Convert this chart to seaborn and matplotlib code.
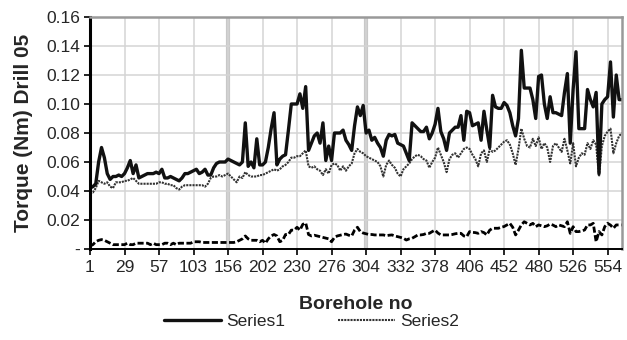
import numpy as np
import pandas as pd
import matplotlib
matplotlib.use("Agg")
import matplotlib.pyplot as plt
import seaborn as sns

# ---- data -------------------------------------------------------------
tick_labels = ['1', '29', '57', '103', '156', '202', '230', '276', '304',
               '332', '378', '406', '452', '480', '526', '554']
label_step = 12          # one axis label every 12 boreholes (categories)
section_labels = ['156', '304']

series1 = [
    0.042, 0.043, 0.045, 0.060, 0.070, 0.063, 0.052, 0.048, 0.050, 0.050, 0.051, 0.050,
    0.052, 0.056, 0.061, 0.052, 0.058, 0.049, 0.050, 0.051, 0.052, 0.052, 0.052, 0.053,
    0.052, 0.055, 0.049, 0.049, 0.050, 0.049, 0.048, 0.047, 0.049, 0.052, 0.052, 0.053,
    0.054, 0.055, 0.052, 0.053, 0.055, 0.051, 0.051, 0.056, 0.059, 0.060, 0.060, 0.060,
    0.062, 0.061, 0.060, 0.059, 0.058, 0.060, 0.087, 0.057, 0.060, 0.056, 0.076, 0.058,
    0.058, 0.060, 0.070, 0.083, 0.094, 0.058, 0.062, 0.064, 0.065, 0.082, 0.100, 0.100,
    0.100, 0.107, 0.097, 0.112, 0.068, 0.073, 0.078, 0.080, 0.073, 0.087, 0.061, 0.071,
    0.061, 0.080, 0.080, 0.080, 0.082, 0.075, 0.072, 0.068, 0.085, 0.098, 0.092, 0.099,
    0.080, 0.082, 0.075, 0.077, 0.073, 0.070, 0.064, 0.075, 0.079, 0.078, 0.079, 0.073,
    0.072, 0.071, 0.066, 0.061, 0.087, 0.085, 0.083, 0.081, 0.081, 0.084, 0.076, 0.080,
    0.086, 0.097, 0.081, 0.076, 0.068, 0.080, 0.082, 0.084, 0.084, 0.092, 0.075, 0.095,
    0.094, 0.085, 0.086, 0.087, 0.075, 0.095, 0.082, 0.070, 0.106, 0.098, 0.097, 0.097,
    0.101, 0.099, 0.094, 0.085, 0.078, 0.090, 0.137, 0.111, 0.111, 0.111, 0.103, 0.090,
    0.119, 0.120, 0.100, 0.090, 0.105, 0.094, 0.094, 0.093, 0.092, 0.108, 0.121, 0.073,
    0.110, 0.136, 0.083, 0.083, 0.083, 0.110, 0.103, 0.098, 0.108, 0.052, 0.100, 0.103,
    0.105, 0.129, 0.091, 0.120, 0.103, 0.103,
]

series2 = [
    0.040, 0.039, 0.042, 0.047, 0.046, 0.045, 0.046, 0.043, 0.042, 0.046, 0.046, 0.046,
    0.047, 0.047, 0.048, 0.049, 0.047, 0.045, 0.045, 0.045, 0.045, 0.045, 0.045, 0.045,
    0.046, 0.046, 0.045, 0.045, 0.044, 0.044, 0.042, 0.041, 0.043, 0.044, 0.044, 0.044,
    0.044, 0.044, 0.044, 0.044, 0.043, 0.045, 0.049, 0.050, 0.050, 0.051, 0.050, 0.051,
    0.052, 0.050, 0.048, 0.046, 0.050, 0.049, 0.053, 0.051, 0.050, 0.050, 0.050, 0.051,
    0.051, 0.052, 0.053, 0.054, 0.055, 0.054, 0.055, 0.057, 0.058, 0.060, 0.063, 0.063,
    0.064, 0.064, 0.066, 0.068, 0.057, 0.056, 0.057, 0.055, 0.054, 0.051, 0.055, 0.052,
    0.058, 0.059, 0.058, 0.054, 0.057, 0.054, 0.057, 0.059, 0.066, 0.069, 0.067, 0.066,
    0.064, 0.063, 0.062, 0.061, 0.060, 0.057, 0.050, 0.058, 0.061, 0.058, 0.056, 0.052,
    0.050, 0.055, 0.057, 0.059, 0.062, 0.064, 0.065, 0.064, 0.062, 0.061, 0.056, 0.060,
    0.063, 0.070, 0.065, 0.060, 0.053, 0.062, 0.065, 0.066, 0.063, 0.066, 0.069, 0.070,
    0.069, 0.065, 0.062, 0.057, 0.066, 0.068, 0.060, 0.069, 0.067, 0.068, 0.070, 0.072,
    0.074, 0.075, 0.072, 0.066, 0.058, 0.069, 0.083, 0.076, 0.071, 0.070, 0.076, 0.071,
    0.077, 0.069, 0.073, 0.070, 0.060, 0.071, 0.073, 0.070, 0.067, 0.076, 0.068, 0.059,
    0.073, 0.057, 0.063, 0.066, 0.065, 0.073, 0.069, 0.075, 0.072, 0.050, 0.071, 0.078,
    0.081, 0.083, 0.066, 0.073, 0.078, 0.080,
]

series3 = [
    0.002, 0.003, 0.005, 0.006, 0.0065, 0.006, 0.005, 0.004, 0.003, 0.003, 0.003, 0.003,
    0.003, 0.004, 0.003, 0.003, 0.004, 0.004, 0.004, 0.004, 0.004, 0.003, 0.004, 0.003,
    0.003, 0.003, 0.004, 0.004, 0.003, 0.004, 0.003, 0.004, 0.004, 0.004, 0.004, 0.004,
    0.005, 0.005, 0.005, 0.0045, 0.0045, 0.0045, 0.0045, 0.0045, 0.0045, 0.0045, 0.0045, 0.0045,
    0.0045, 0.0045, 0.0045, 0.005, 0.006, 0.007, 0.009, 0.007, 0.006, 0.006, 0.006, 0.005,
    0.006, 0.004, 0.007, 0.009, 0.010, 0.009, 0.005, 0.006, 0.010, 0.010, 0.013, 0.013,
    0.015, 0.013, 0.017, 0.018, 0.010, 0.009, 0.0095, 0.009, 0.0085, 0.008, 0.0075, 0.007,
    0.005, 0.008, 0.009, 0.0095, 0.010, 0.0103, 0.0095, 0.009, 0.013, 0.015, 0.012, 0.011,
    0.0105, 0.010, 0.010, 0.0097, 0.0097, 0.0097, 0.0097, 0.0092, 0.0095, 0.0097, 0.009, 0.0085,
    0.008, 0.0074, 0.0062, 0.007, 0.0074, 0.0085, 0.0097, 0.0097, 0.010, 0.0108, 0.0108, 0.012,
    0.013, 0.011, 0.0097, 0.0097, 0.0097, 0.0097, 0.010, 0.0105, 0.0108, 0.0108, 0.009, 0.0085,
    0.012, 0.0115, 0.0113, 0.0108, 0.012, 0.0113, 0.0097, 0.013, 0.0143, 0.0143, 0.0143, 0.015,
    0.0155, 0.0166, 0.0177, 0.015, 0.0097, 0.013, 0.0166, 0.0188, 0.0177, 0.0166, 0.0177, 0.0154,
    0.0166, 0.016, 0.0154, 0.016, 0.0172, 0.0165, 0.0154, 0.0166, 0.016, 0.0154, 0.0188, 0.0108,
    0.0154, 0.012, 0.012, 0.0125, 0.0131, 0.0166, 0.0166, 0.0177, 0.005, 0.012, 0.0097, 0.0154,
    0.0177, 0.0165, 0.0143, 0.0166, 0.0166, 0.0166,
]

# ---- figure -----------------------------------------------------------
sns.set_theme(style="white")
plt.rcParams['font.family'] = ['Liberation Sans', 'DejaVu Sans']

n = len(series1)
df = pd.DataFrame({"idx": np.arange(n), "s1": series1, "s2": series2, "s3": series3})

fig = plt.figure(figsize=(6.27, 3.40), dpi=100)
ax = fig.add_axes([90 / 627, 1 - 249 / 340, 532 / 627, 232 / 340])

tick_pos = np.arange(len(tick_labels)) * label_step
ax.set_xticks(tick_pos)
ax.set_xticklabels(tick_labels)
yt = np.arange(0, 0.161, 0.02)
ax.set_yticks(yt)
ax.set_yticklabels(['-' if v < 1e-9 else f"{v:.2f}" for v in yt])
ax.grid(True, color="#d4d4d4", linewidth=1.1)
ax.set_axisbelow(True)

for lab in section_labels:
    ax.axvline(tick_labels.index(lab) * label_step, color="#c8c8c8", linewidth=3.0, zorder=0.5)

sns.lineplot(data=df, x="idx", y="s3", ax=ax, color="black", linewidth=2.0,
             linestyle=(0, (2.2, 0.9)), legend=False)
sns.lineplot(data=df, x="idx", y="s2", ax=ax, color="#333333", linewidth=1.5,
             linestyle=(0, (1.0, 0.5)), legend=False)
sns.lineplot(data=df, x="idx", y="s1", ax=ax, color="#111111", linewidth=2.4,
             legend=False)

ax.set_xlim(0, n - 1)
ax.set_ylim(0, 0.16)

for side in ("top", "right"):
    ax.spines[side].set_color("#999999")
    ax.spines[side].set_linewidth(1.8)
ax.spines["left"].set_color("black")
ax.spines["left"].set_linewidth(2.2)
ax.spines["bottom"].set_color("black")
ax.spines["bottom"].set_linewidth(1.4)

ax.tick_params(axis="both", which="major", direction="out", length=4, width=1.2,
               color="black", labelsize=12.5, pad=3, bottom=True, left=True)
ax.tick_params(axis="x", pad=4)

ax.set_xlabel("Borehole no", fontsize=14, fontweight="bold", labelpad=15)
ax.set_ylabel("Torque (Nm) Drill 05", fontsize=15, fontweight="bold", labelpad=10)

h1 = ax.lines[-1]
h2 = ax.lines[-2]
fig.legend([h1, h2], ["Series1", "Series2"], loc="center",
           bbox_to_anchor=(0.497, 0.054), ncol=2, frameon=False,
           fontsize=12.5, handlelength=3.3, columnspacing=3.0, handletextpad=0.3)

fig.savefig("out.png", dpi=100)
